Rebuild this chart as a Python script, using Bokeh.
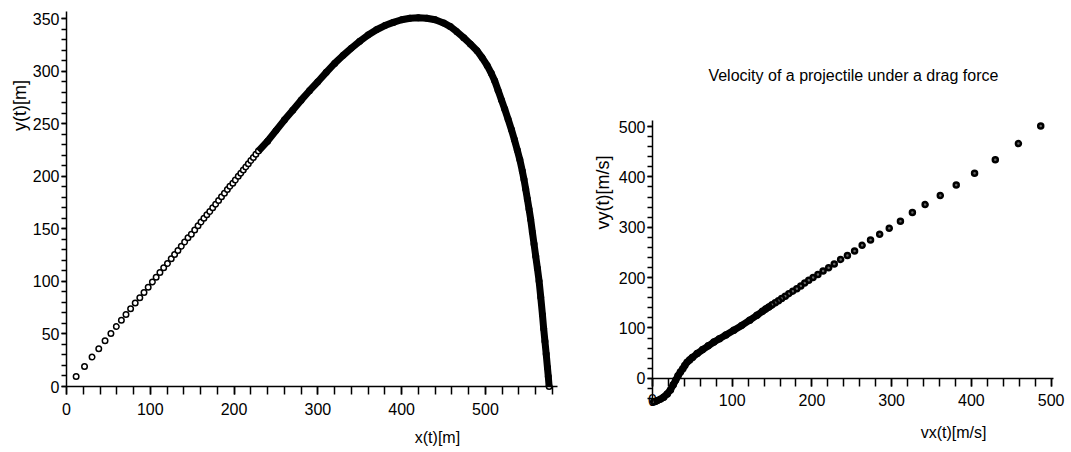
import math
from bokeh.plotting import figure
from bokeh.models import SingleIntervalTicker, Label, Range1d, LinearAxis
from bokeh.embed import file_html
from bokeh.resources import INLINE

# ---- Trajectory (left panel) ----
x_pos = [11.5, 21.5, 30.5, 38.5, 46, 53, 59.5, 65.5, 71, 76.5, 82, 87.5, 92.5,
         97.5, 102.5, 107, 111.5, 116, 120.5, 125, 129, 133, 137, 141, 145, 149,
         153, 157, 160.5, 164, 167.5, 171, 174.5, 178, 181.5, 185, 188.5, 192, 195,
         198.5, 201.5, 205, 208, 211, 214, 217, 220, 223, 226, 229,
         240, 250, 260, 270, 280, 290, 300, 310, 320, 330, 340, 350, 360, 370, 380,
         390, 400, 410, 420, 430, 440, 450, 458, 466, 474, 482, 490, 496, 502, 507,
         511, 515, 519, 523, 527, 531, 534.5, 538, 541, 544, 546, 548, 550, 552, 554,
         556, 558, 560, 562, 564, 566, 568, 569.5, 571, 572.5, 574, 575, 576]
y_pos = [9.5, 19, 28, 36, 43.5, 50.5, 57, 63, 68.5, 74, 79.5, 84.5, 89.5,
         94.5, 99.5, 104, 108.5, 113, 117, 121.5, 125.5, 129.5, 133.5, 137.5, 141.5, 145,
         149, 153, 156.5, 160, 163.5, 166.5, 170, 173.5, 177, 180.5, 184, 187.5, 190.5,
         193.5, 196.5, 200, 203, 206, 209, 212, 215, 218, 221, 224,
         233.5, 243.5, 253.5, 263, 272.5, 281.5, 290, 299, 307.5, 315, 322, 328.5, 334.5, 339.5, 343.5,
         346.5, 349, 350.5, 351, 350.5, 349, 346, 342.5, 337.5, 332, 326, 319.5, 313, 305.5, 298,
         291, 282, 273, 264, 254.5, 244.5, 235, 225, 216, 205, 197, 188, 178.5, 169, 159,
         147, 135.5, 124, 112.5, 100.5, 85, 68.5, 55, 43, 31, 18, 9.5, 0]
POS_DENSE_FROM = 49   # index from which the marks merge into a solid band

# ---- Velocity (right panel) ----
vx = [487, 459, 430, 404, 381, 361, 342, 326, 311, 297, 285, 273.5, 263, 253.5,
      244.5, 236, 228, 221, 214, 207.5, 201.5, 196, 191, 186, 181, 176, 171, 166.5,
      162, 158, 154, 150, 146, 142, 138, 131, 122, 112, 102, 92, 84, 77, 70, 63,
      56, 50, 46.5, 43.5, 40.5, 38, 35, 32, 29, 26, 22.5, 18.5, 14, 10, 6, 3, 1.5]
vy = [501, 466, 434, 407, 384, 363, 345, 329, 312, 298, 286, 274.5, 264, 253,
      244, 236, 227, 219.5, 213, 206, 200, 194.5, 189, 183.5, 178, 173, 168, 163,
      158.5, 154, 150, 146, 141.5, 137.5, 133, 125, 115.5, 105, 95.5, 86, 78.5, 72, 64.5, 57,
      49, 41.5, 36.5, 32, 25.5, 19, 12.5, 5, -4, -13, -23, -31, -37.5, -41.5, -44.5, -46, -46.5]
VEL_DENSE_FROM = 31

FONT = "Liberation Sans"

# ---- one canvas holding both panels; each panel has its own ranges ----
W, H = 1071, 452


def span(unit_px, origin_px, total_px):
    """Range so that value 0 lands origin_px from the canvas start, unit_px pixels per unit."""
    start = -origin_px / unit_px
    return Range1d(start, start + total_px / unit_px)


# left panel: x 0 at 66px from left, 0.8379 px/unit; y 0 at 66px from bottom, 1.0508 px/unit
# right panel: vx 0 at 652px from left, 0.7972 px/unit; vy 0 at 74.2px from bottom, 0.5036 px/unit
p = figure(width=W, height=H, output_backend="svg", toolbar_location=None,
           x_range=span(0.8379, 66, W), y_range=span(1.0508, 66, H),
           x_axis_type=None, y_axis_type=None,
           min_border=0, min_border_left=0, min_border_right=0,
           min_border_top=0, min_border_bottom=0)
p.extra_x_ranges = {"vx": span(0.7972, 652, W)}
p.extra_y_ranges = {"vy": span(0.5036, 74.2, H)}
p.xgrid.visible = False
p.ygrid.visible = False
p.outline_line_color = None


def make_axis(kind, interval, bounds, tick_len, standoff, **rng):
    ax = LinearAxis(ticker=SingleIntervalTicker(interval=interval, num_minor_ticks=5),
                    fixed_location=0, bounds=bounds, **rng)
    ax.axis_line_width = 1.5
    ax.axis_line_color = "black"
    ax.major_tick_in = 0
    ax.minor_tick_in = 0
    ax.major_tick_out = tick_len
    ax.minor_tick_out = tick_len
    ax.major_tick_line_width = 1.5
    ax.minor_tick_line_width = 1.5
    ax.major_tick_line_color = "black"
    ax.minor_tick_line_color = "black"
    ax.major_label_text_font = FONT
    ax.major_label_text_font_size = "16px"
    ax.major_label_text_color = "black"
    ax.major_label_standoff = standoff
    p.add_layout(ax, kind)
    return ax


make_axis("below", 100, (0, 586), 8, 8)
make_axis("left", 50, (0, 357), 5, 2)
make_axis("below", 100, (0, 503), 8, 8, x_range_name="vx", y_range_name="vy")
make_axis("left", 100, (-48, 512), 5, 2, x_range_name="vx", y_range_name="vy")

# left data
p.scatter(x_pos, y_pos, marker="circle", size=5.5, line_color="black",
          fill_color="white", line_width=1.5)
p.line(x_pos[POS_DENSE_FROM:], y_pos[POS_DENSE_FROM:], line_width=7, color="black")

# right data
p.scatter(vx, vy, marker="circle", size=5, line_color="black", fill_color="#666666",
          line_width=2.5, x_range_name="vx", y_range_name="vy")
p.line(vx[VEL_DENSE_FROM:], vy[VEL_DENSE_FROM:], line_width=7, color="black",
       x_range_name="vx", y_range_name="vy")


def add_label(x, y, text, angle=0.0, size="16px", **rng):
    p.add_layout(Label(x=x, y=y, text=text, angle=angle, angle_units="rad",
                       text_font=FONT, text_font_size=size, text_color="black",
                       text_align="center", text_baseline="middle", **rng))


add_label(442.7, -48.5, "x(t)[m]")
add_label(-54.9, 267.4, "y(t)[m]", angle=math.pi / 2, size="18px")
add_label(252, 601, "Velocity of a projectile under a drag force",
          x_range_name="vx", y_range_name="vy")
add_label(377.7, -107.6, "vx(t)[m/s]", x_range_name="vx", y_range_name="vy")
add_label(-61.5, 369, "vy(t)[m/s]", angle=math.pi / 2, size="18px",
          x_range_name="vx", y_range_name="vy")

open("out.html", "w").write(file_html(p, INLINE))
